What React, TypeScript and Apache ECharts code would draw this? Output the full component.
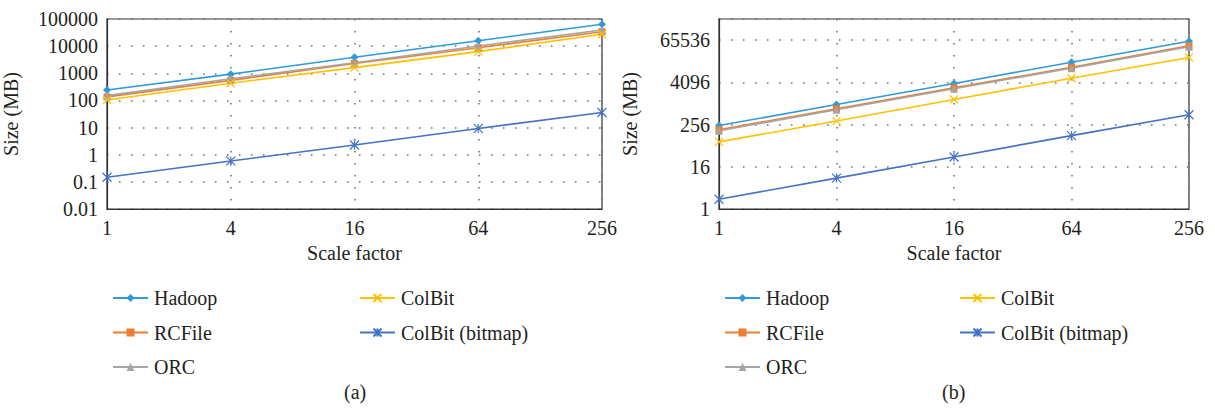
import React, { useEffect, useRef } from "react";
import * as echarts from "echarts";

const scaleFactors = [1, 4, 16, 64, 256];
const seriesNames = ["Hadoop", "RCFile", "ORC", "ColBit", "ColBit (bitmap)"];

// (a) log10 axis
const hadoopA = [242, 930, 3900, 15800, 63700];
const rcfileA = [135, 550, 2300, 8700, 34000];
const orcA = [150, 630, 2460, 10100, 39400];
const colbitA = [104, 430, 1620, 6300, 27400];
const bitmapA = [0.148, 0.59, 2.28, 9.3, 36];

// (b) log16 axis
const hadoopB = [240, 950, 3800, 15300, 61000];
const rcfileB = [183, 724, 2860, 11000, 45000];
const orcB = [170, 680, 2700, 10400, 42500];
const colbitB = [82, 322, 1330, 5360, 21000];
const bitmapB = [1.9, 7.6, 30.5, 124, 488];

const colors = ["#2F9BDA", "#ED7D31", "#A5A5A5", "#FFC000", "#4472C4"];
const symbols = [
  "diamond",
  "rect",
  "triangle",
  "path://M0,0L10,10M10,0L0,10",
  "path://M5,0L5,10M0,0L10,10M10,0L0,10",
];
const symbolSizes = [8, 7, 8, 8, 9];

const FONT = "Liberation Serif";
const TEXT = "#231f20";

export default function App() {
  const ref = useRef<HTMLDivElement>(null);
  useEffect(() => {
    document.body.style.margin = "0";
    const chart = echarts.init(ref.current!, null, { renderer: "svg" });
    const fmt = (v: number) => String(+Number(v).toPrecision(6));
    const gridLine = { show: true, lineStyle: { color: "#6b6b6b", width: 1.5, type: [1.5, 10.5] as any } };
    const mkX = (gi: number) => ({
      type: "log",
      logBase: 4,
      gridIndex: gi,
      min: 1,
      max: 256,
      name: "Scale factor",
      nameLocation: "middle",
      nameGap: 34,
      nameTextStyle: { fontFamily: FONT, fontSize: 20, color: TEXT },
      axisLine: { show: true, lineStyle: { color: "#333", width: 1.2 } },
      axisTick: { show: false },
      axisLabel: { fontFamily: FONT, fontSize: 20, color: TEXT, margin: 9, formatter: fmt },
      splitLine: gridLine,
    });
    const mkY = (gi: number, base: number, min: number, max: number, gap: number) => ({
      type: "log",
      logBase: base,
      gridIndex: gi,
      min,
      max,
      name: "Size (MB)",
      nameLocation: "middle",
      nameRotate: 90,
      nameGap: gap,
      nameTextStyle: { fontFamily: FONT, fontSize: 20, color: TEXT },
      axisLine: { show: true, lineStyle: { color: "#333", width: 1.2 } },
      axisTick: { show: false },
      axisLabel: {
        fontFamily: FONT,
        fontSize: 20,
        color: TEXT,
        margin: 9,
        formatter: fmt,
        showMaxLabel: base === 10,
      },
      splitLine: gridLine,
    });
    const dataA = [hadoopA, rcfileA, orcA, colbitA, bitmapA];
    const dataB = [hadoopB, rcfileB, orcB, colbitB, bitmapB];
    const mkSeries = (gi: number, data: number[][]) =>
      seriesNames.map((name, i) => ({
        type: "line",
        name,
        xAxisIndex: gi,
        yAxisIndex: gi,
        data: scaleFactors.map((x, j) => [x, data[i][j]]),
        symbol: symbols[i],
        symbolSize: symbolSizes[i],
        showAllSymbol: true,
        lineStyle: { color: colors[i], width: 1.6 },
        itemStyle: { color: colors[i], borderColor: colors[i], borderWidth: i >= 3 ? 1.2 : 0 },
        emphasis: { disabled: true },
      }));
    const mkLegend = (left: number, data: string[]) => ({
      left,
      top: 283,
      orient: "vertical",
      itemWidth: 35,
      itemHeight: 10,
      itemGap: 14.5,
      data,
      selectedMode: false,
      textStyle: { fontFamily: FONT, fontSize: 20, color: TEXT, lineHeight: 20, padding: [0, 0, 0, 1] },
    });
    chart.setOption({
      animation: false,
      color: colors,
      textStyle: { fontFamily: FONT },
      grid: [
        { left: 107, top: 19, width: 495, height: 190, show: true, borderColor: "#333", borderWidth: 1.2 },
        { left: 719, top: 19, width: 470, height: 190, show: true, borderColor: "#333", borderWidth: 1.2 },
      ],
      xAxis: [mkX(0), mkX(1)],
      yAxis: [mkY(0, 10, 0.01, 100000, 86), mkY(1, 16, 1, 262144, 79)],
      legend: [
        mkLegend(107, seriesNames.slice(0, 3)),
        mkLegend(354, seriesNames.slice(3)),
        mkLegend(719, seriesNames.slice(0, 3)),
        mkLegend(954, seriesNames.slice(3)),
      ],
      graphic: [
        { type: "text", left: 344, top: 382, style: { text: "(a)", fontFamily: FONT, fontSize: 20, fill: TEXT } },
        { type: "text", left: 942, top: 382, style: { text: "(b)", fontFamily: FONT, fontSize: 20, fill: TEXT } },
      ],
      series: [...mkSeries(0, dataA), ...mkSeries(1, dataB)],
    });
    return () => chart.dispose();
  }, []);
  return <div ref={ref} style={{ width: 1215, height: 409 }} />;
}
